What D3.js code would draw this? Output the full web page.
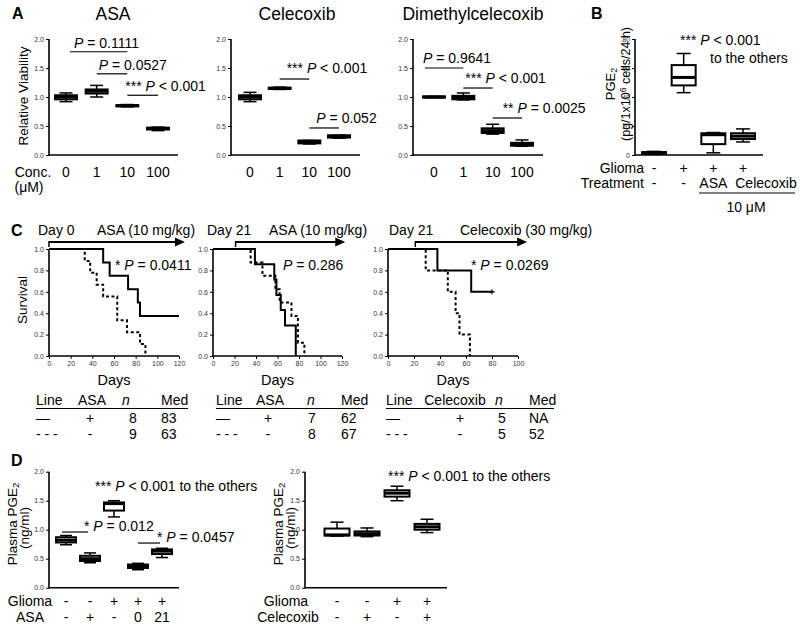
<!DOCTYPE html>
<html><head><meta charset="utf-8">
<script src="https://cdn.jsdelivr.net/npm/d3@7"></script>
<style>body{margin:0;background:#fff}svg{display:block}</style>
</head><body>
<script>
// ---------------- DATA ----------------
const concCategories = ["0", "1", "10", "100"];
// [min, q1, median, q3, max]
const asaViability = [[0.92,0.96,1.0,1.03,1.07],[1.0,1.06,1.1,1.13,1.2],[0.83,0.84,0.85,0.86,0.87],[0.42,0.44,0.46,0.47,0.48]];
const celecoxibViability = [[0.92,0.96,1.0,1.03,1.08],[1.13,1.14,1.15,1.16,1.17],[0.19,0.2,0.22,0.25,0.25],[0.29,0.3,0.32,0.34,0.34]];
const dmcViability = [[0.99,0.99,1.0,1.01,1.01],[0.95,0.96,0.99,1.02,1.07],[0.36,0.38,0.42,0.46,0.53],[0.15,0.16,0.18,0.21,0.26]];
const viabilityTicks = [0, 0.5, 1.0, 1.5, 2.0];

const pgeCategories = ["ctrl", "glioma", "asa", "celecoxib"];
const pgeCells = [[0.5,1,1.5,2,2.5],[43,48,53.5,62,70],[1.5,7.5,14,15,15.5],[9,11,13,15,18]];
const pgeTicks = [0, 20, 40, 60, 80];
const pgeGliomaRow = ["-", "+", "+", "+"];
const pgeTreatmentRow = ["-", "-", "ASA", "Celecoxib"];

const plasmaAsaCategories = ["a", "b", "c", "d", "e"];
const plasmaAsa = [[0.74,0.78,0.82,0.87,0.9],[0.43,0.46,0.5,0.55,0.6],[1.22,1.33,1.45,1.47,1.5],[0.31,0.34,0.37,0.4,0.42],[0.52,0.58,0.63,0.66,0.68]];
const plasmaAsaGlioma = ["-", "-", "+", "+", "+"];
const plasmaAsaTreat = ["-", "+", "-", "0", "21"];
const plasmaCelCategories = ["a", "b", "c", "d"];
const plasmaCelecoxib = [[0.89,0.9,0.91,1.02,1.13],[0.88,0.9,0.93,0.97,1.03],[1.5,1.57,1.63,1.68,1.75],[0.95,1.0,1.05,1.1,1.18]];
const plasmaCelGlioma = ["-", "-", "+", "+"];
const plasmaCelTreat = ["-", "+", "-", "+"];
const plasmaTicks = [0, 0.5, 1.0, 1.5, 2.0];

// Kaplan-Meier step points [day, survival]
const km1Solid  = [[0,1],[50,0.875],[56,0.75],[73,0.625],[82,0.5],[84,0.375],[120,0.375]];
const km1Dashed = [[0,1],[33,0.889],[38,0.778],[44,0.667],[50,0.556],[63,0.333],[72,0.222],[84,0.111],[89,0]];
const km2Solid  = [[0,1],[39,0.857],[57,0.714],[59,0.571],[63,0.429],[67,0.286],[77,0]];
const km2Dashed = [[0,1],[35,0.875],[46,0.75],[58,0.625],[62,0.5],[73,0.375],[79,0.125],[85,0]];
const km3Solid  = [[0,1],[38,0.8],[64,0.6],[80,0.6]];
const km3Dashed = [[0,1],[29,0.8],[46,0.6],[52,0.4],[55,0.2],[63,0]];
const km3Censor = [[80,0.6]];
const survivalTicks = [0, 0.2, 0.4, 0.6, 0.8, 1.0];
const days120Ticks = [0, 20, 40, 60, 80, 100, 120];
const days100Ticks = [0, 20, 40, 60, 80, 100];

const tableHeaders1 = ["Line", "ASA", "n", "Med"];
const tableRows1 = [["—", "+", "8", "83"], ["- - -", "-", "9", "63"]];
const tableHeaders2 = ["Line", "ASA", "n", "Med"];
const tableRows2 = [["—", "+", "7", "62"], ["- - -", "-", "8", "67"]];
const tableHeaders3 = ["Line", "Celecoxib", "n", "Med"];
const tableRows3 = [["—", "+", "5", "NA"], ["- - -", "-", "5", "52"]];

// ---------------- SETUP ----------------
const FF = "'Liberation Sans', Arial, Helvetica, sans-serif";
const svg = d3.select("body").append("svg").attr("width", 800).attr("height", 627)
  .style("font-family", FF);
svg.append("rect").attr("width", 800).attr("height", 627).attr("fill", "#fff");

function rich(parent, x, y, segs, size, anchor, rotate) {
  const t = parent.append("text").attr("font-size", size).attr("fill", "#000")
    .attr("text-anchor", anchor || "start");
  if (rotate) t.attr("transform", `translate(${x},${y}) rotate(-90)`);
  else t.attr("x", x).attr("y", y);
  segs.forEach(s => {
    if (typeof s === "string") s = {t: s};
    const ts = t.append("tspan").text(s.t);
    if (s.i) ts.attr("font-style", "italic");
    if (s.sub) ts.attr("baseline-shift", "-25%").attr("font-size", size * 0.7);
    if (s.sup) ts.attr("baseline-shift", "45%").attr("font-size", size * 0.7);
  });
  return t;
}
function pText(label) {
  const idx = label.indexOf("P");
  const segs = [];
  if (idx > 0) segs.push({t: label.slice(0, idx)});
  segs.push({t: "P", i: true});
  segs.push({t: label.slice(idx + 1)});
  return segs;
}

function yAxis(g, y, x0, ticks, fmt) {
  const ax = g.append("g").attr("transform", `translate(${x0},0)`)
    .call(d3.axisLeft(y).tickValues(ticks).tickSize(3).tickPadding(2).tickFormat(fmt));
  ax.select(".domain").attr("stroke-width", 1.6).attr("d", `M0,${y.range()[0] + 0.8}V${y.range()[1]}`);
  ax.selectAll(".tick line").attr("stroke-width", 1);
  ax.selectAll(".tick text").attr("font-size", 7).attr("fill", "#333").style("font-family", FF);
  return ax;
}
function xBase(g, y, x0, x1) {
  g.append("line").attr("x1", x0).attr("x2", x1).attr("y1", y.range()[0]).attr("y2", y.range()[0])
    .attr("stroke", "#000").attr("stroke-width", 1.6);
}

function boxes(g, x, y, data, bw, cw) {
  const bg = g.append("g").selectAll("g").data(data).join("g")
    .attr("transform", (d, i) => `translate(${x(x.domain()[i])},0)`);
  bg.append("line").attr("y1", d => y(d[0])).attr("y2", d => y(d[4])).attr("stroke", "#000").attr("stroke-width", 1.5);
  bg.append("line").attr("x1", -cw / 2).attr("x2", cw / 2).attr("y1", d => y(d[0])).attr("y2", d => y(d[0])).attr("stroke", "#000").attr("stroke-width", 1.5);
  bg.append("line").attr("x1", -cw / 2).attr("x2", cw / 2).attr("y1", d => y(d[4])).attr("y2", d => y(d[4])).attr("stroke", "#000").attr("stroke-width", 1.5);
  bg.append("rect").attr("x", -bw / 2).attr("width", bw)
    .attr("y", d => y(d[3])).attr("height", d => Math.max(0.5, y(d[1]) - y(d[3])))
    .attr("fill", "#fff").attr("stroke", "#000").attr("stroke-width", 2);
  bg.append("line").attr("x1", -bw / 2).attr("x2", bw / 2).attr("y1", d => y(d[2])).attr("y2", d => y(d[2]))
    .attr("stroke", "#000").attr("stroke-width", 3);
}
function sigLine(g, x1, x2, yy) {
  g.append("line").attr("x1", x1).attr("x2", x2).attr("y1", yy).attr("y2", yy).attr("stroke", "#000").attr("stroke-width", 1.2);
}

const fmt1 = d3.format(".1f");

// ---------------- PANEL A ----------------
rich(svg, 12, 19, [{t: "A"}], 16).attr("font-weight", "bold");
rich(svg, 28, 96, ["Relative Viability"], 13.5, "middle", true);
rich(svg, 33, 177, ["Conc."], 14, "middle");
rich(svg, 29, 192, ["(μM)"], 14, "middle");

const yV = d3.scaleLinear().domain([0, 2]).range([155, 39]);
const panelsA = [
  {title: "ASA", tx: 113, ax0: 49, ax1: 178, xr: [66, 158], data: asaViability,
   sig: [{a: "0", b: "10", v: 1.78, label: "P = 0.1111", dx: 4, dy: -4, s: 4},
         {a: "1", b: "10", v: 1.40, label: "P = 0.0527", dx: 2, dy: -4, s: 0},
         {a: "10", b: "100", v: 1.03, label: "*** P < 0.001", dx: -2, dy: -4, s: 0}]},
  {title: "Celecoxib", tx: 297, ax0: 231, ax1: 360, xr: [250, 339], data: celecoxibViability,
   sig: [{a: "1", b: "10", v: 1.31, label: "*** P < 0.001", dx: 7, dy: -6, s: 0},
         {a: "10", b: "100", v: 0.466, label: "P = 0.052", dx: 7, dy: -5, s: 0}]},
  {title: "Dimethylcelecoxib", tx: 473, ax0: 413, ax1: 543, xr: [434, 522], data: dmcViability,
   sig: [{a: "0", b: "1", v: 1.5, label: "P = 0.9641", dx: -2, dy: -5, s: -9},
         {a: "1", b: "10", v: 1.155, label: "*** P < 0.001", dx: 2, dy: -5, s: 0},
         {a: "10", b: "100", v: 0.638, label: "** P = 0.0025", dx: 10, dy: -5, s: 0}]}
];
panelsA.forEach(p => {
  const g = svg.append("g");
  const x = d3.scalePoint().domain(concCategories).range(p.xr);
  rich(g, p.tx, 20, [p.title], 17.5, "middle");
  yAxis(g, yV, p.ax0, viabilityTicks, fmt1);
  xBase(g, yV, p.ax0, p.ax1);
  boxes(g, x, yV, p.data, 22, 13);
  concCategories.forEach(c => rich(g, x(c), 177, [c], 14, "middle"));
  p.sig.forEach(s => {
    const x1 = x(s.a) + s.s, x2 = x(s.b);
    sigLine(g, x1, x2, yV(s.v));
    rich(g, x1 + s.dx, yV(s.v) + s.dy, pText(s.label), 14);
  });
});

// ---------------- PANEL B ----------------
{
  const g = svg.append("g");
  rich(g, 591, 19, [{t: "B"}], 16).attr("font-weight", "bold");
  const y = d3.scaleLinear().domain([0, 80]).range([155, 39]);
  const x = d3.scalePoint().domain(pgeCategories).range([654, 743]);
  yAxis(g, y, 635, pgeTicks, d3.format("d"));
  xBase(g, y, 635, 763);
  boxes(g, x, y, pgeCells, 24, 14);
  rich(g, 615, 84, ["PGE", {t: "2", sub: true}], 13, "middle", true);
  rich(g, 630, 84, ["(pg/1x10", {t: "6", sup: true}, " cells/24 h)"], 12.5, "middle", true);
  rich(g, 680, 45, pText("*** P < 0.001"), 14);
  rich(g, 710, 63, ["to the others"], 14);
  rich(g, 644, 173, ["Glioma"], 14, "end");
  rich(g, 644, 188, ["Treatment"], 14, "end");
  pgeCategories.forEach((c, i) => {
    rich(g, x(c), 173, [pgeGliomaRow[i]], 14, "middle");
    const tx = i === 3 ? x(c) + 23 : x(c);
    rich(g, tx, 188, [pgeTreatmentRow[i]], 14, "middle");
  });
  g.append("line").attr("x1", 699).attr("x2", 795).attr("y1", 193).attr("y2", 193).attr("stroke", "#000").attr("stroke-width", 1.2);
  rich(g, 746, 212, ["10 μM"], 14, "middle");
}

// ---------------- PANEL C ----------------
rich(svg, 11, 236, [{t: "C"}], 16).attr("font-weight", "bold");
rich(svg, 27, 300, ["Survival"], 13.5, "middle", true);
const yS = d3.scaleLinear().domain([0, 1]).range([356, 249]);
const kmPanels = [
  {x0: 49, x1: 179, max: 120, ticks: days120Ticks, solid: km1Solid, dashed: km1Dashed, censor: [],
   day: "Day 0", dayX: 38, drug: "ASA (10 mg/kg)", drugX: 97, start: 0, end: 125.5,
   p: "* P = 0.0411", px: 115},
  {x0: 213, x1: 342, max: 120, ticks: days120Ticks, solid: km2Solid, dashed: km2Dashed, censor: [],
   day: "Day 21", dayX: 207, drug: "ASA (10 mg/kg)", drugX: 269, start: 21, end: 123,
   p: "P = 0.286", px: 283},
  {x0: 388, x1: 518, max: 100, ticks: days100Ticks, solid: km3Solid, dashed: km3Dashed, censor: km3Censor,
   day: "Day 21", dayX: 389, drug: "Celecoxib (30 mg/kg)", drugX: 460, start: 21, end: 107,
   p: "* P = 0.0269", px: 471}
];
kmPanels.forEach(k => {
  const g = svg.append("g");
  const x = d3.scaleLinear().domain([0, k.max]).range([k.x0, k.x1]);
  yAxis(g, yS, k.x0, survivalTicks, fmt1);
  const xa = g.append("g").attr("transform", `translate(0,${yS(0)})`)
    .call(d3.axisBottom(x).tickValues(k.ticks).tickSize(3).tickPadding(2));
  xa.select(".domain").attr("stroke-width", 1.6).attr("d", `M${k.x0},0H${k.x1}`);
  xa.selectAll(".tick text").attr("font-size", 7).attr("fill", "#333").style("font-family", FF);
  const line = d3.line().x(d => x(d[0])).y(d => yS(d[1])).curve(d3.curveStepAfter);
  g.append("path").attr("d", line(k.dashed)).attr("fill", "none").attr("stroke", "#000")
    .attr("stroke-width", 2).attr("stroke-dasharray", "3,2.5");
  g.append("path").attr("d", line(k.solid)).attr("fill", "none").attr("stroke", "#000").attr("stroke-width", 2);
  k.censor.forEach(c => {
    g.append("line").attr("x1", x(c[0]) - 3).attr("x2", x(c[0]) + 3).attr("y1", yS(c[1])).attr("y2", yS(c[1])).attr("stroke", "#000").attr("stroke-width", 1.2);
    g.append("line").attr("x1", x(c[0])).attr("x2", x(c[0])).attr("y1", yS(c[1]) - 2.5).attr("y2", yS(c[1]) + 2.5).attr("stroke", "#000").attr("stroke-width", 1.2);
  });
  const ax1 = x(k.start), ax2 = x(k.end);
  g.append("line").attr("x1", ax1).attr("x2", ax2 - 8).attr("y1", 242).attr("y2", 242).attr("stroke", "#000").attr("stroke-width", 2);
  g.append("line").attr("x1", ax1).attr("x2", ax1).attr("y1", 241).attr("y2", 247).attr("stroke", "#000").attr("stroke-width", 1.5);
  g.append("path").attr("d", `M${ax2},242L${ax2 - 10},237.5L${ax2 - 10},246.5Z`).attr("fill", "#000");
  rich(g, k.dayX, 235, [k.day], 14);
  rich(g, k.drugX, 235, [k.drug], 14);
  rich(g, k.px, 270, pText(k.p), 14);
  rich(g, (k.x0 + k.x1) / 2, 385, ["Days"], 14.5, "middle");
});

// tables
const tables = [
  {h: tableHeaders1, r: tableRows1, cols: [36, 92, 126, 161], vcols: [36, 90, 133, 161], ul: [36, 188]},
  {h: tableHeaders2, r: tableRows2, cols: [216, 270, 311, 341], vcols: [216, 268, 312, 341], ul: [216, 364]},
  {h: tableHeaders3, r: tableRows3, cols: [386, 455, 499, 529], vcols: [386, 460, 502, 529], ul: [386, 554]}
];
tables.forEach(tb => {
  const g = svg.append("g");
  const anchors = ["start", "middle", "middle", "start"];
  tb.h.forEach((h, i) => rich(g, tb.cols[i], 405, [{t: h, i: h === "n"}], 14, anchors[i]));
  g.append("line").attr("x1", tb.ul[0]).attr("x2", tb.ul[1]).attr("y1", 408.5).attr("y2", 408.5).attr("stroke", "#000").attr("stroke-width", 1);
  tb.r.forEach((row, ri) => {
    row.forEach((v, i) => rich(g, tb.vcols[i], 422.5 + ri * 16.5, [v], 14, anchors[i]));
  });
});

// ---------------- PANEL D ----------------
rich(svg, 11, 466, [{t: "D"}], 16).attr("font-weight", "bold");
const yP = d3.scaleLinear().domain([0, 2]).range([587.7, 471.7]);
{
  const g = svg.append("g");
  const x = d3.scalePoint().domain(plasmaAsaCategories).range([66, 162]);
  yAxis(g, yP, 49, plasmaTicks, fmt1);
  xBase(g, yP, 49, 179);
  boxes(g, x, yP, plasmaAsa, 20, 12);
  rich(g, 17, 524, ["Plasma PGE", {t: "2", sub: true}], 13.5, "middle", true);
  rich(g, 29, 528, ["(ng/ml)"], 13.5, "middle", true);
  rich(g, 95, 491, pText("*** P < 0.001 to the others"), 14);
  sigLine(g, x("a") - 4, x("b") - 2, yP(0.96));
  rich(g, 84, yP(0.96) - 1, pText("* P = 0.012"), 14);
  sigLine(g, x("d"), x("e") - 2, yP(0.77));
  rich(g, 157, yP(0.77) - 1, pText("* P = 0.0457"), 14);
  rich(g, 30, 606, ["Glioma"], 14, "middle");
  rich(g, 30, 622, ["ASA"], 14, "middle");
  plasmaAsaCategories.forEach((c, i) => {
    rich(g, x(c), 606, [plasmaAsaGlioma[i]], 14, "middle");
    rich(g, x(c), 622, [plasmaAsaTreat[i]], 14, "middle");
  });
}
{
  const g = svg.append("g");
  const x = d3.scalePoint().domain(plasmaCelCategories).range([337, 427]);
  yAxis(g, yP, 305, plasmaTicks, fmt1);
  xBase(g, yP, 305, 447);
  boxes(g, x, yP, plasmaCelecoxib, 25, 13);
  rich(g, 283, 524, ["Plasma PGE", {t: "2", sub: true}], 13.5, "middle", true);
  rich(g, 295, 528, ["(ng/ml)"], 13.5, "middle", true);
  rich(g, 388, 481, pText("*** P < 0.001 to the others"), 14);
  rich(g, 286, 606, ["Glioma"], 14, "middle");
  rich(g, 288, 622, ["Celecoxib"], 14, "middle");
  plasmaCelCategories.forEach((c, i) => {
    rich(g, x(c), 606, [plasmaCelGlioma[i]], 14, "middle");
    rich(g, x(c), 622, [plasmaCelTreat[i]], 14, "middle");
  });
}
</script>
</body></html>
